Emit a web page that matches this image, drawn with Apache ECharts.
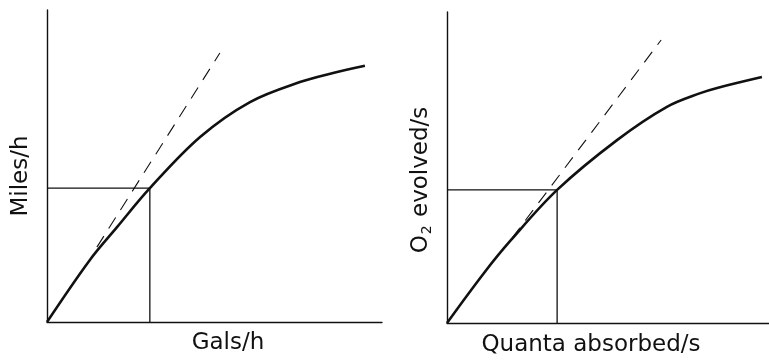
<!DOCTYPE html>
<html>
<head>
<meta charset="utf-8">
<script src="https://cdn.jsdelivr.net/npm/echarts@6/dist/echarts.min.js"></script>
<style>
  html, body { margin: 0; padding: 0; background: #fff; }
  #main { width: 769px; height: 362px; }
</style>
</head>
<body>
<div id="main"></div>
<script>
// left panel: Miles/h vs Gals/h
var fuelCurve = [[0, 0], [1.28, 1.99], [2.09, 3.04], [3.07, 4.29], [4.57, 5.93], [6.06, 7.05], [7.55, 7.69], [8.54, 7.98], [9.49, 8.21]]
var fuelTangent = [[1.49, 2.40], [5.16, 8.62]]
var fuelPoint = [3.07, 4.29]

// right panel: O2 evolved/s vs quanta absorbed/s
var photoCurve = [[0, 0], [1.15, 1.61], [1.99, 2.67], [3.42, 4.28], [5.28, 5.88], [6.83, 6.95], [7.89, 7.40], [8.39, 7.56], [9.78, 7.91]]
var photoTangent = [[2.02, 2.73], [6.65, 9.10]]
var photoPoint = [3.42, 4.28]

var axisMax = 10
var ink = '#111'
var font = 'DejaVu Sans'

function dropLines(p) {
  return [[0, p[1]], [p[0], p[1]], [p[0], 0]]
}

function plainAxis(idx) {
  return {
    type: 'value', gridIndex: idx, min: 0, max: axisMax,
    axisLine: { show: true, lineStyle: { color: ink, width: 1.4 } },
    axisTick: { show: false }, axisLabel: { show: false }, splitLine: { show: false }
  }
}

function panelSeries(idx, curve, tangent, point) {
  return [{
    type: 'line', xAxisIndex: idx, yAxisIndex: idx, data: curve, smooth: 0.35,
    symbol: 'none', lineStyle: { color: ink, width: 2.6 }
  }, {
    type: 'line', xAxisIndex: idx, yAxisIndex: idx, data: tangent,
    symbol: 'none', lineStyle: { color: ink, width: 1.1, type: [13, 9] }
  }, {
    type: 'line', xAxisIndex: idx, yAxisIndex: idx, data: dropLines(point),
    symbol: 'none', lineStyle: { color: ink, width: 1.3 }
  }]
}

var chart = echarts.init(document.getElementById('main'))
var option = {
  backgroundColor: '#fff',
  animation: false,
  grid: [
    { left: 47, top: 10, width: 335, height: 312 },
    { left: 447, top: 12, width: 322, height: 311 }
  ],
  xAxis: [plainAxis(0), plainAxis(1)],
  yAxis: [plainAxis(0), plainAxis(1)],
  series: panelSeries(0, fuelCurve, fuelTangent, fuelPoint)
    .concat(panelSeries(1, photoCurve, photoTangent, photoPoint)),
  graphic: [
    { type: 'text', x: 228, y: 343, style: { text: 'Gals/h', font: '23px ' + font, fill: ink, align: 'center', verticalAlign: 'middle' } },
    { type: 'text', x: 591, y: 345, style: { text: 'Quanta absorbed/s', font: '23px ' + font, fill: ink, align: 'center', verticalAlign: 'middle' } },
    { type: 'text', x: 21, y: 176, rotation: Math.PI / 2, style: { text: 'Miles/h', font: '23px ' + font, fill: ink, align: 'center', verticalAlign: 'middle' } },
    { type: 'text', x: 421, y: 180, rotation: Math.PI / 2, style: {
      text: '{n|O}{s|2}{n| evolved/s}', fill: ink, align: 'center', verticalAlign: 'middle',
      rich: {
        n: { fontSize: 23, fontFamily: font, fill: ink, lineHeight: 26 },
        s: { fontSize: 14, fontFamily: font, fill: ink, lineHeight: 26, padding: [12, 1, 0, 1] }
      }
    } }
  ]
}
chart.setOption(option)
</script>
</body>
</html>
